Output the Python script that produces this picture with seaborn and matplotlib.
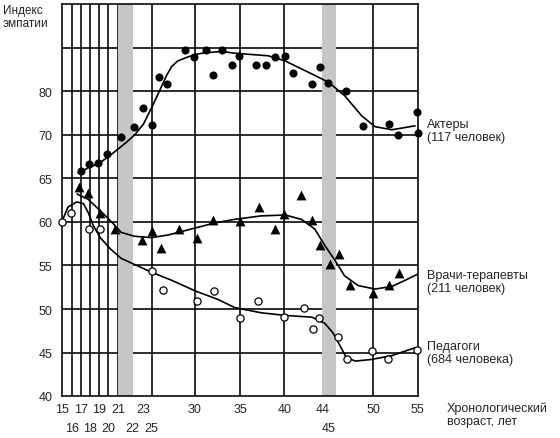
import numpy as np
import pandas as pd
import matplotlib
matplotlib.use("Agg")
import matplotlib.pyplot as plt
from matplotlib.ticker import FixedLocator
import seaborn as sns

# --- данные ---
# Актеры: точки
actors_age = [17, 17.9, 18.9, 19.9, 21.2, 22.1, 23, 25, 25.8, 26.8, 28.8, 29.9, 31.2, 32.0,
              33.0, 34.1, 34.9, 36.8, 37.9, 39.0, 40.1, 40.9, 42.9, 43.8, 45.0, 46.9,
              48.9, 51.8, 52.8, 54.9, 55]
actors_idx = [65.8, 66.6, 66.8, 67.8, 69.8, 71.8, 76.1, 72.3, 83.3, 81.8, 89.5, 87.9, 89.5, 83.7,
              89.5, 86.1, 88.1, 86.1, 86.1, 87.9, 88.1, 84.3, 81.8, 85.7, 82.0, 80.0,
              72.1, 72.5, 70.1, 75.3, 70.4]
# Актеры: сглаженная кривая
actors_curve_age = [16.7, 17.8, 18.9, 19.9, 21.0, 21.6, 22.2, 23.1, 25, 26.0, 26.7, 27.3, 28.0,
                    29.0, 30, 31.1, 33.0, 34.4, 36.3, 38.2, 40.1, 42.9, 45, 46.8, 48.7,
                    50.2, 52.1, 54.7]
actors_curve_idx = [65.6, 66.2, 66.7, 67.4, 68.4, 69.2, 70.0, 72.5, 76.3, 80.5, 83.6, 85.7, 87.0,
                    87.8, 88.5, 88.9, 89.2, 88.8, 88.5, 88.2, 87.0, 84.0, 82.1, 79.0, 74.4,
                    71.9, 71.2, 72.1]

# Врачи-терапевты
doctors_age = [16.8, 17.8, 19.1, 20.7, 22.9, 25, 26.1, 28.2, 30.2, 32.0, 35, 37.1, 38.9, 40,
               41.8, 42.9, 43.8, 46.2, 45.2, 47.4, 50, 51.8, 52.9]
doctors_idx = [64.0, 63.3, 61.0, 59.2, 57.9, 59.0, 57.0, 59.2, 58.2, 60.2, 60.1, 61.7, 59.2, 60.9,
               63.1, 60.2, 57.4, 56.3, 55.1, 52.8, 51.8, 52.8, 54.1]
doctors_curve_age = [16.6, 17.8, 19.3, 20.5, 21.2, 22.2, 25, 26.9, 30, 32.2, 34.4, 37.4, 40.1,
                     41.8, 43.2, 44.4, 45.7, 46.8, 48.3, 50.2, 52.1, 53.6, 55]
doctors_curve_idx = [63.2, 62.6, 61.1, 59.8, 58.8, 58.35, 58.2, 58.5, 59.3, 59.9, 60.3, 60.7, 60.8,
                     60.3, 59.2, 57.3, 55.6, 53.8, 52.7, 52.3, 52.6, 53.3, 54.0]

# Педагоги
teachers_age = [15, 15.9, 17.9, 19.1, 25, 26.3, 30.2, 32.1, 35, 37.0, 40, 42.1, 43.7, 43.0,
                46.1, 47.1, 49.9, 51.6, 54.9]
teachers_idx = [60.0, 61.0, 59.2, 59.2, 54.3, 52.2, 50.9, 52.1, 49.0, 50.9, 49.1, 50.1, 49.0, 47.8,
                46.8, 44.25, 45.2, 44.25, 45.3]
teachers_curve_age = [15, 15.6, 16.55, 17.3, 17.8, 18.35, 19.1, 20.2, 21.2, 22.55, 25, 27.3, 30,
                      32.6, 34.4, 37.4, 40.1, 42.9, 44.4, 45.5, 46.3, 47.0, 48.0, 49.8, 52.1, 54.7]
teachers_curve_idx = [60.15, 61.7, 62.3, 62.1, 61.1, 59.6, 58.2, 56.9, 55.8, 54.9, 54.2, 53.3, 52.1,
                      51.1, 50.2, 49.6, 49.3, 49.1, 48.4, 47.3, 45.8, 44.45, 44.06, 44.25, 44.7, 45.6]

# подписи осей
x_top_labels = [15, 17, 19, 21, 23, 30, 35, 40, 44, 50, 55]
x_bottom_labels = [16, 18, 20, 22, 25, 45]
y_labels = [40, 45, 50, 55, 60, 65, 70, 80]

# --- неравномерные шкалы, как в оригинале ---
X_AGE = [15, 16, 17, 18, 19, 20, 21, 22, 23, 25, 30, 35, 40, 44, 45, 50, 55]
X_POS = [62.3, 71.7, 80.7, 90, 99.3, 108.3, 118.3, 132.5, 143, 151.7, 195, 240, 284.3,
         322.3, 328.5, 373.3, 417.7]
Y_VAL = [40, 45, 50, 55, 60, 65, 70, 80, 90, 100]
Y_POS = [0, 43, 86.7, 130.7, 174, 217.7, 261, 304.7, 348, 392]


def x_fwd(v):
    return np.interp(v, X_AGE, X_POS)


def x_inv(p):
    return np.interp(p, X_POS, X_AGE)


def y_fwd(v):
    return np.interp(v, Y_VAL, Y_POS)


def y_inv(p):
    return np.interp(p, Y_POS, Y_VAL)


sns.set_style("white")
plt.rcParams["font.family"] = ["Liberation Sans", "DejaVu Sans"]

fig = plt.figure(figsize=(5.6, 4.39), dpi=100)
ax = fig.add_axes([62.3 / 560, 42 / 439, 355.4 / 560, 392 / 439])
ax.set_xscale("function", functions=(x_fwd, x_inv))
ax.set_yscale("function", functions=(y_fwd, y_inv))
ax.set_xlim(15, 55)
ax.set_ylim(40, 100)

# сетка
for gx in [16, 17, 18, 19, 20, 21, 25, 30, 35, 40, 50]:
    ax.axvline(gx, color="black", lw=1.15, zorder=0.5)
for gy in [45, 50, 55, 60, 65, 70, 80, 90]:
    ax.axhline(gy, color="black", lw=1.15, zorder=0.5)

# серые полосы
ax.axvspan(21, 22, color="#c6c6c6", lw=0, zorder=1)
ax.axvspan(44, 45.8, color="#c6c6c6", lw=0, zorder=1)

# кривые
for a, v in [(actors_curve_age, actors_curve_idx),
             (doctors_curve_age, doctors_curve_idx),
             (teachers_curve_age, teachers_curve_idx)]:
    sns.lineplot(x=a, y=v, sort=False, estimator=None, color="black", lw=1.2, ax=ax, zorder=2)

# точки
sns.scatterplot(x=actors_age, y=actors_idx, marker="o", s=34, color="black",
                edgecolor="black", linewidth=0, ax=ax, zorder=3, clip_on=False)
sns.scatterplot(x=doctors_age, y=doctors_idx, marker="^", s=50, color="black",
                edgecolor="black", linewidth=0, ax=ax, zorder=3, clip_on=False)
sns.scatterplot(x=teachers_age, y=teachers_idx, marker="o", s=27, color="white",
                edgecolor="black", linewidth=0.9, ax=ax, zorder=3, clip_on=False)

# оси и подписи
for sp in ax.spines.values():
    sp.set_color("black")
    sp.set_linewidth(1.15)
    sp.set_visible(True)

ax.xaxis.set_major_locator(FixedLocator(x_top_labels))
ax.xaxis.set_minor_locator(FixedLocator(x_bottom_labels))
ax.set_xticklabels([str(v) for v in x_top_labels])
ax.set_xticklabels([str(v) for v in x_bottom_labels], minor=True)
ax.tick_params(axis="x", which="major", length=0, pad=5, labelsize=9)
ax.tick_params(axis="x", which="minor", length=0, pad=19, labelsize=9)
ax.yaxis.set_major_locator(FixedLocator(y_labels))
ax.yaxis.set_minor_locator(FixedLocator([]))
ax.set_yticklabels([str(v) for v in y_labels])
ax.tick_params(axis="y", length=0, pad=7, labelsize=9)
ax.set_xlabel("")
ax.set_ylabel("")

fig.text(3 / 560, 1 - 5 / 439, "Индекс\nэмпатии", ha="left", va="top", fontsize=8.5,
         linespacing=1.1)
fig.text(427 / 560, 1 - 131.5 / 439, "Актеры\n(117 человек)", ha="left", va="center",
         fontsize=9, linespacing=1.1)
fig.text(427 / 560, 1 - 282.5 / 439, "Врачи-терапевты\n(211 человек)", ha="left", va="center",
         fontsize=9, linespacing=1.1)
fig.text(427 / 560, 1 - 353.5 / 439, "Педагоги\n(684 человека)", ha="left", va="center",
         fontsize=9, linespacing=1.1)
fig.text(446.5 / 560, 1 - 415 / 439, "Хронологический\nвозраст, лет", ha="left", va="center",
         fontsize=9, linespacing=1.1)

fig.savefig("out.png", dpi=100, facecolor="white")
